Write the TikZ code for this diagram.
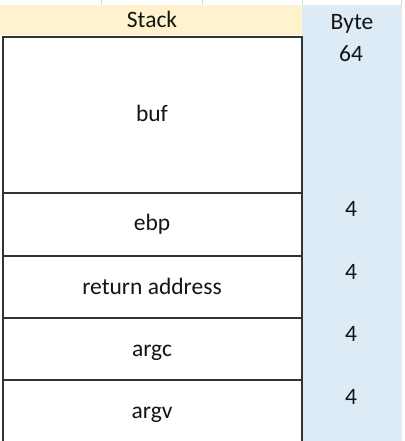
\documentclass[tikz,border=0pt]{standalone}
\usepackage{fontspec}
\setmainfont{Carlito}
\definecolor{headstack}{HTML}{FFF2CC}
\definecolor{bytecol}{HTML}{DDEBF7}
\definecolor{gridgray}{HTML}{D9D9D9}
\definecolor{cellline}{HTML}{333333}
\definecolor{txt}{HTML}{141414}
\begin{document}
\begin{tikzpicture}[x=1bp,y=-1bp,
  celltext/.style={anchor=base,inner sep=0pt,text=txt,font=\fontsize{23.5bp}{28bp}\selectfont},
  border/.style={draw=cellline,line width=1.6bp},
  grid/.style={draw=gridgray,line width=0.8bp}]
\useasboundingbox (0,0) rectangle (404,441);
\fill[white] (0,0) rectangle (404,441);
% sheet gridlines above the header row
\foreach \gx in {101.5,202.5,302,401.5}
  \draw[grid] (\gx,0) -- (\gx,5);
% header fills and byte column
\fill[headstack] (0,5) rectangle (302,35);
\fill[bytecol] (302,5) rectangle (402,441);
% header texts
\node[celltext] (hstack) at (152,27.5) {Stack};
\node[celltext] (hbyte) at (352,29.5) {Byte};
% stack frame cells
\draw[border] (2.8,441) -- (2.8,37) -- (302,37) -- (302,441);
\foreach \ly in {193,256,318,380}
  \draw[border] (2.8,\ly) -- (302,\ly);
\node[celltext] (buf) at (152,122) {buf};
\node[celltext] (ebp) at (152,230) {ebp};
\node[celltext] (ret) at (152,294) {return address};
\node[celltext] (argc) at (152,356) {argc};
\node[celltext] (argv) at (152,418) {argv};
% sizes in bytes
\node[celltext] (sbuf) at (351,61.5) {64};
\node[celltext] (sebp) at (351,216.5) {4};
\node[celltext] (sret) at (351,279.5) {4};
\node[celltext] (sargc) at (351,341.5) {4};
\node[celltext] (sargv) at (351,404.5) {4};
\end{tikzpicture}
\end{document}
